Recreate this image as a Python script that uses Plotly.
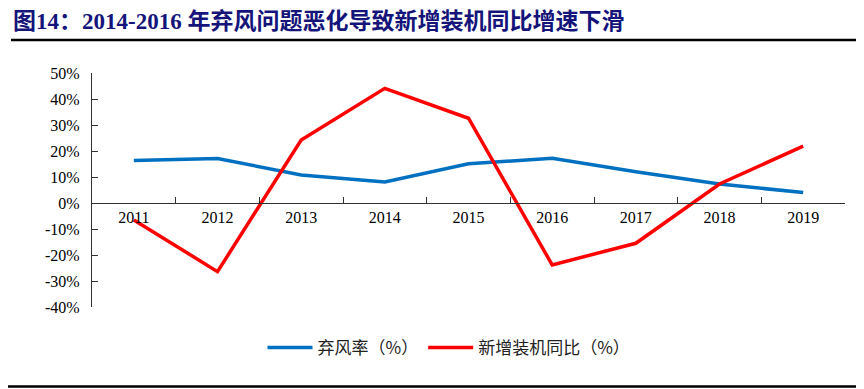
import plotly.graph_objects as go

years = ["2011", "2012", "2013", "2014", "2015", "2016", "2017", "2018", "2019"]
curtailment = [16.3, 17.1, 10.8, 8.1, 15.1, 17.2, 12.0, 7.3, 4.0]
new_install_yoy = [-6.5, -26.4, 24.2, 44.1, 32.6, -23.8, -15.5, 7.3, 21.9]
ytick_vals = [-40, -30, -20, -10, 0, 10, 20, 30, 40, 50]
ytick_text = [f"{v}%" for v in ytick_vals]

title_text = "图14：2014-2016 年弃风问题恶化导致新增装机同比增速下滑"

fig = go.Figure()
fig.add_trace(go.Scatter(x=years, y=curtailment, mode="lines", name="弃风率（%）",
                         line=dict(color="#0070C0", width=3.5)))
fig.add_trace(go.Scatter(x=years, y=new_install_yoy, mode="lines", name="新增装机同比（%）",
                         line=dict(color="#FF0000", width=3.5)))

ymin, ymax = -40, 50
zero_frac = (0 - ymin) / (ymax - ymin)

# page has an 8px body margin; figure is sized/offset to compensate
OFF = 8
L, T, R, B = 84, 65, 19, 82
W, H = 864 - OFF, 389 - OFF
PW, PH = W - L - R, H - T - B


def px(xpage):
    return (xpage - OFF - L) / PW


def py(ypage):
    return (H - B - (ypage - OFF)) / PH


fig.update_layout(
    width=W, height=H,
    margin=dict(l=L, r=R, t=T, b=B, autoexpand=False),
    paper_bgcolor="white", plot_bgcolor="white",
    showlegend=True,
    legend=dict(orientation="h", x=px(449), xanchor="center", y=py(348), yanchor="middle",
                font=dict(family="Noto Sans CJK SC, Liberation Serif", size=17, color="#222"),
                itemwidth=45, traceorder="normal", tracegroupgap=0),
    font=dict(family="Liberation Serif, Noto Sans CJK SC", size=14, color="black"),
    xaxis=dict(type="category", range=[-0.5, 8.5], anchor="free", position=zero_frac,
               showline=True, linecolor="#333", linewidth=1.2,
               ticks="inside", tickson="boundaries", ticklen=6, tickcolor="#333",
               showgrid=False, zeroline=False,
               tickfont=dict(family="Liberation Serif", size=16, color="black")),
    yaxis=dict(range=[ymin, ymax], tickvals=ytick_vals, ticktext=ytick_text,
               showline=True, linecolor="#333", linewidth=1.2,
               ticks="inside", ticklen=6, tickcolor="#333", ticklabelstandoff=8,
               showgrid=False, zeroline=False,
               tickfont=dict(family="Liberation Serif", size=16, color="black")),
    annotations=[dict(text="<b>" + title_text + "</b>", xref="paper", yref="paper",
                      x=px(11), y=py(21), xanchor="left", yanchor="middle", showarrow=False,
                      font=dict(family="Liberation Serif, Noto Sans CJK SC", size=23, color="#14147a"))],
    shapes=[
        dict(type="line", xref="paper", yref="paper", x0=px(11), x1=px(858),
             y0=py(40), y1=py(40), line=dict(color="black", width=2.5)),
        dict(type="line", xref="paper", yref="paper", x0=px(7), x1=px(858),
             y0=py(386.5), y1=py(386.5), line=dict(color="black", width=2.5)),
    ],
)

fig.write_html("out.html")
